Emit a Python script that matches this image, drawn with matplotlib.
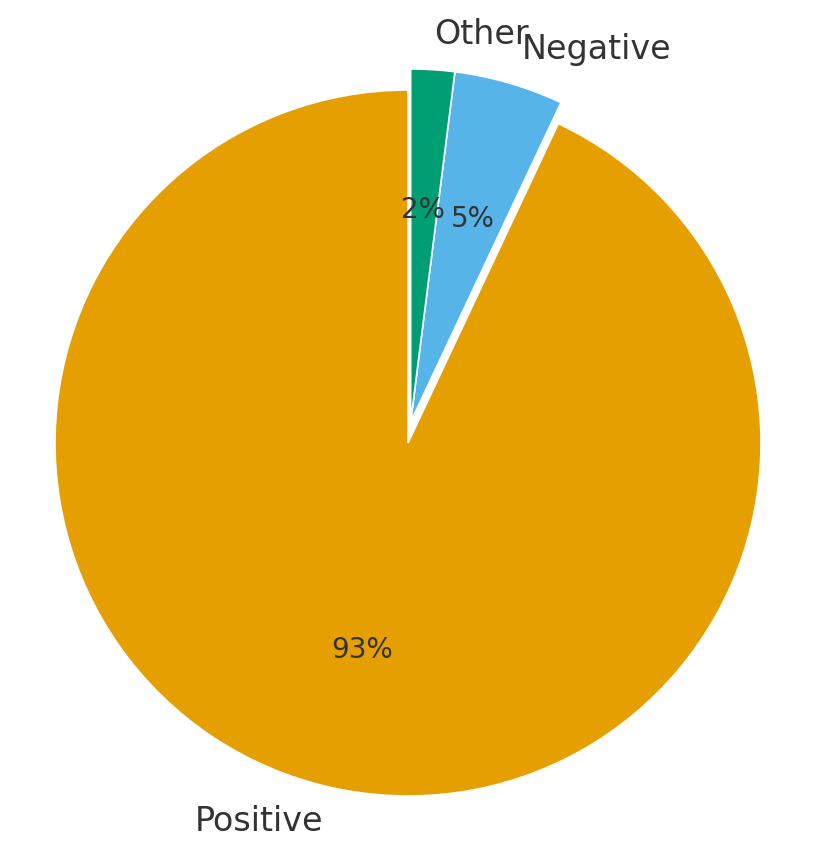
import matplotlib
matplotlib.use("Agg")
import numpy as np
import matplotlib.pyplot as plt

labels = ["Positive", "Negative", "Other"]
shares = [93, 5, 2]
colors = ["#E69F00", "#56B4E9", "#009E73"]
explode = [0.0, 0.06, 0.06]

W, H = 814, 858
fig = plt.figure(figsize=(W / 100, H / 100), dpi=100)
ax = fig.add_axes([0, 0, 1, 1])

wedges, texts, autotexts = ax.pie(
    shares, labels=labels, colors=colors, explode=explode,
    startangle=90, autopct="%1.0f%%", pctdistance=0.6, labeldistance=1.1,
    wedgeprops=dict(edgecolor="white", linewidth=1.2),
    textprops=dict(color="#333333"),
)
for t in texts:
    t.set_fontsize(24)
for t in autotexts:
    t.set_fontsize(20)

# the two small slices are pulled out together, along their shared edge
shared = np.deg2rad(wedges[2].theta1)
off = (explode[1] * np.cos(shared), explode[1] * np.sin(shared))
for w in wedges[1:]:
    w.set_center(off)

R = 353.0
cx, cy = 408.0, 443.0
ax.set_aspect("auto")
ax.set_xlim(-cx / R, (W - cx) / R)
ax.set_ylim(-(H - cy) / R, cy / R)
ax.axis("off")

fig.savefig("out.png", dpi=100, facecolor="white")
